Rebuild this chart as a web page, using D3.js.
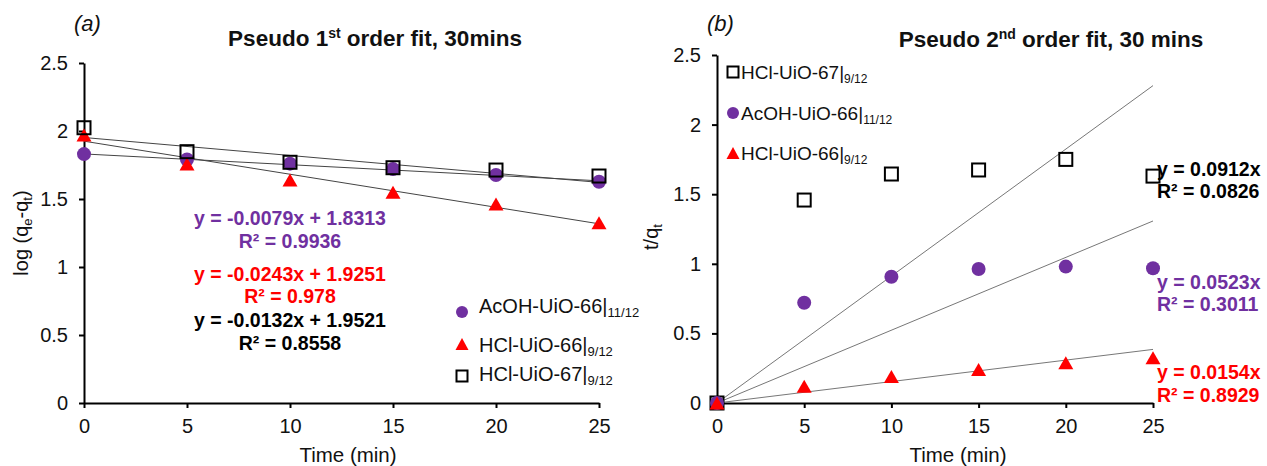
<!DOCTYPE html>
<html><head><meta charset="utf-8">
<script src="https://cdn.jsdelivr.net/npm/d3@7"></script>
<style>
html,body{margin:0;padding:0;background:#fff;}
svg{display:block;font-family:"Liberation Sans",Arial,sans-serif;}
</style></head>
<body>
<svg id="c" width="1267" height="466"></svg>
<script>
// ---- data ----
const times = [0, 5, 10, 15, 20, 25];
const xTicks = [0, 5, 10, 15, 20, 25];
const yTicks = [0, 0.5, 1, 1.5, 2, 2.5];
const yTickLabels = ["0", "0.5", "1", "1.5", "2", "2.5"];

// (a) pseudo 1st order: log(qe-qt)
const p1AcOH66 = [1.83, 1.79, 1.76, 1.72, 1.676, 1.627];
const p1HCl66  = [1.97, 1.757, 1.64, 1.55, 1.463, 1.326];
const p1HCl67  = [2.024, 1.848, 1.77, 1.73, 1.713, 1.669];
// linear fits (slope, intercept)
const p1FitAcOH66 = [-0.0079, 1.8313];
const p1FitHCl66  = [-0.0243, 1.9251];
const p1FitHCl67  = [-0.0132, 1.9521];
const p1Labels = [
  ["y = -0.0079x + 1.8313", "R² = 0.9936"],
  ["y = -0.0243x + 1.9251", "R² = 0.978"],
  ["y = -0.0132x + 1.9521", "R² = 0.8558"]
];

// (b) pseudo 2nd order: t/qt
const p2HCl67  = [0, 1.458, 1.645, 1.674, 1.75, 1.63];
const p2AcOH66 = [0, 0.72, 0.907, 0.963, 0.98, 0.968];
const p2HCl66  = [0, 0.12, 0.19, 0.24, 0.29, 0.325];
const p2SlopeHCl67 = 0.0912, p2SlopeAcOH66 = 0.0523, p2SlopeHCl66 = 0.0154;
const p2Labels = [
  ["y = 0.0912x", "R² = 0.0826"],
  ["y = 0.0523x", "R² = 0.3011"],
  ["y = 0.0154x", "R² = 0.8929"]
];

const seriesNames = ["AcOH-UiO-66", "HCl-UiO-66", "HCl-UiO-67"];
const seriesSubs = ["11/12", "9/12", "9/12"];

// ---- styles ----
const PURPLE = "#7030A0", RED = "#FF0000", BLACK = "#000";
const svg = d3.select("#c");

function marker(g, type, x, y, s) {
  if (type === "square") {
    const a = s.sq;
    g.append("rect").attr("x", x - a/2).attr("y", y - a/2).attr("width", a).attr("height", a)
      .attr("fill", "none").attr("stroke", BLACK).attr("stroke-width", 2);
  } else if (type === "circle") {
    g.append("circle").attr("cx", x).attr("cy", y).attr("r", s.r).attr("fill", PURPLE);
  } else {
    const w = s.tw, h = s.th;
    g.append("path").attr("d", `M${x},${y - h/2}L${x + w/2},${y + h/2}L${x - w/2},${y + h/2}Z`).attr("fill", RED);
  }
}

function drawAxes(x, y) {
  const gx = svg.append("g").attr("transform", `translate(0,${y(0)})`)
    .call(d3.axisBottom(x).tickValues(xTicks).tickSize(5).tickSizeOuter(0).tickPadding(11).tickFormat(d3.format("d")));
  const gy = svg.append("g").attr("transform", `translate(${x(0)},0)`)
    .call(d3.axisLeft(y).tickValues(yTicks).tickSize(5).tickSizeOuter(0).tickPadding(11).tickFormat((d, i) => yTickLabels[i]));
  [gx, gy].forEach(g => {
    g.select(".domain").attr("stroke", BLACK).attr("stroke-width", 2);
    g.selectAll(".tick line").attr("stroke", BLACK).attr("stroke-width", 2);
    g.selectAll(".tick text").attr("font-size", 20).attr("fill", "#111")
      .attr("font-family", '"Liberation Sans",Arial,sans-serif');
  });
}

// ---- (a) ----
const xL = d3.scaleLinear().domain([0, 25]).range([84, 599]);
const yL = d3.scaleLinear().domain([0, 2.5]).range([403, 63]);
drawAxes(xL, yL);

const ms = {sq: 13, r: 7, tw: 15, th: 13};
const gA = svg.append("g");
// trendlines
[p1FitAcOH66, p1FitHCl66, p1FitHCl67].forEach(f => {
  gA.append("line").attr("x1", xL(0)).attr("y1", yL(f[1])).attr("x2", xL(25)).attr("y2", yL(f[0]*25 + f[1]))
    .attr("stroke", "#444").attr("stroke-width", 1);
});
times.forEach((t, i) => marker(gA, "circle", xL(t), yL(p1AcOH66[i]), ms));
times.forEach((t, i) => marker(gA, "triangle", xL(t), yL(p1HCl66[i]), ms));
times.forEach((t, i) => marker(gA, "square", xL(t), yL(p1HCl67[i]), ms));

// equations (a)
const eqA = [[PURPLE, 225, 248], [RED, 281, 303], [BLACK, 327, 350]];
eqA.forEach((e, i) => {
  [0, 1].forEach(k => {
    svg.append("text").attr("x", 290).attr("y", e[1 + k]).attr("text-anchor", "middle")
      .attr("font-size", 19.5).attr("font-weight", "bold").attr("fill", e[0]).text(p1Labels[i][k]);
  });
});

// legend (a)
const legA = [["circle", 312, 313], ["triangle", 344, 352], ["square", 376, 381]];
legA.forEach((l, i) => {
  marker(svg, l[0], 462, l[1], {sq: 11, r: 6, tw: 13, th: 12});
  const t = svg.append("text").attr("x", 479).attr("y", l[2]).attr("font-size", 20).attr("fill", "#111");
  t.append("tspan").text(seriesNames[i] + "|");
  t.append("tspan").attr("font-size", 13).attr("dy", 4).text(seriesSubs[i]);
});

// titles (a)
svg.append("text").attr("x", 74).attr("y", 31).attr("font-size", 22).attr("font-style", "italic").attr("fill", "#111").text("(a)");
{
  const t = svg.append("text").attr("x", 375).attr("y", 46).attr("text-anchor", "middle")
    .attr("font-size", 22.5).attr("font-weight", "bold").attr("fill", "#111");
  t.append("tspan").text("Pseudo 1");
  t.append("tspan").attr("font-size", 14).attr("dy", -8).text("st");
  t.append("tspan").attr("dy", 8).text(" order fit, 30mins");
}
{
  const t = svg.append("text").attr("transform", `translate(28,${(yL(0) + yL(2.5))/2}) rotate(-90)`)
    .attr("text-anchor", "middle").attr("font-size", 20).attr("fill", "#111");
  t.append("tspan").text("log (q");
  t.append("tspan").attr("font-size", 13).attr("dy", 4).text("e");
  t.append("tspan").attr("dy", -4).text("-q");
  t.append("tspan").attr("font-size", 13).attr("dy", 4).text("t");
  t.append("tspan").attr("dy", -4).text(")");
}
svg.append("text").attr("x", 348).attr("y", 462).attr("text-anchor", "middle").attr("font-size", 20.5).attr("fill", "#111").text("Time (min)");

// ---- (b) ----
const xR = d3.scaleLinear().domain([0, 25]).range([717, 1153]);
const yR = d3.scaleLinear().domain([0, 2.5]).range([403, 55]);
drawAxes(xR, yR);
const gB = svg.append("g");
[p2SlopeHCl67, p2SlopeAcOH66, p2SlopeHCl66].forEach(s => {
  gB.append("line").attr("x1", xR(0)).attr("y1", yR(0)).attr("x2", xR(25)).attr("y2", yR(s*25))
    .attr("stroke", "#777").attr("stroke-width", 1);
});
times.forEach((t, i) => marker(gB, "square", xR(t), yR(p2HCl67[i]), ms));
times.forEach((t, i) => marker(gB, "circle", xR(t), yR(p2AcOH66[i]), ms));
times.forEach((t, i) => marker(gB, "triangle", xR(t), yR(p2HCl66[i]), ms));

const eqB = [[BLACK, 176, 198], [PURPLE, 289, 311], [RED, 379, 402]];
eqB.forEach((e, i) => {
  [0, 1].forEach(k => {
    svg.append("text").attr("x", 1157).attr("y", e[1 + k])
      .attr("font-size", 19.5).attr("font-weight", "bold").attr("fill", e[0]).text(p2Labels[i][k]);
  });
});

const legB = [["square", 72, 79, 2], ["circle", 113, 120, 0], ["triangle", 153, 160, 1]];
legB.forEach(l => {
  marker(svg, l[0], 733, l[1], {sq: 11, r: 6, tw: 13, th: 12});
  const t = svg.append("text").attr("x", 741).attr("y", l[2]).attr("font-size", 19).attr("fill", "#111");
  t.append("tspan").text(seriesNames[l[3]] + "|");
  t.append("tspan").attr("font-size", 12).attr("dy", 4).text(seriesSubs[l[3]]);
});

svg.append("text").attr("x", 707).attr("y", 31).attr("font-size", 22).attr("font-style", "italic").attr("fill", "#111").text("(b)");
{
  const t = svg.append("text").attr("x", 1051).attr("y", 47).attr("text-anchor", "middle")
    .attr("font-size", 22.5).attr("font-weight", "bold").attr("fill", "#111");
  t.append("tspan").text("Pseudo 2");
  t.append("tspan").attr("font-size", 14).attr("dy", -8).text("nd");
  t.append("tspan").attr("dy", 8).text(" order fit, 30 mins");
}
{
  const t = svg.append("text").attr("transform", `translate(658,${(yR(0) + yR(2.5))/2 + 8}) rotate(-90)`)
    .attr("text-anchor", "middle").attr("font-size", 20).attr("fill", "#111");
  t.append("tspan").text("t/q");
  t.append("tspan").attr("font-size", 13).attr("dy", 4).text("t");
}
svg.append("text").attr("x", 958).attr("y", 462).attr("text-anchor", "middle").attr("font-size", 20.5).attr("fill", "#111").text("Time (min)");
</script>
</body></html>
